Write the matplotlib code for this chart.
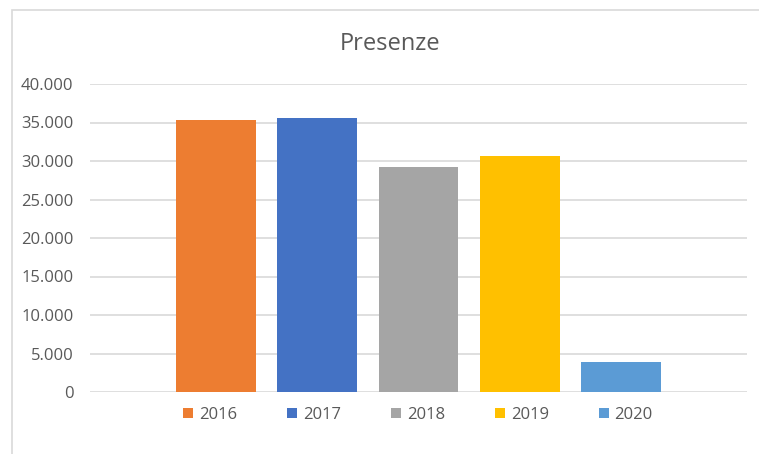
import matplotlib
matplotlib.use("Agg")
import matplotlib.pyplot as plt
from matplotlib.patches import Rectangle, Patch
from matplotlib.ticker import FuncFormatter

# -----------------------------
# Data
# -----------------------------
years = ["2016", "2017", "2018", "2019", "2020"]
presenze = [35350, 35550, 29250, 30650, 3950]
colors = ["#ED7D31", "#4472C4", "#A5A5A5", "#FFC000", "#5B9BD5"]

plt.rcParams["font.family"] = ["Open Sans", "DejaVu Sans"]
text_color = "#595959"
grid_color = "#D9D9D9"

W, H = 759, 454
fig = plt.figure(figsize=(W / 100, H / 100), dpi=100)

# chart border (Excel style)
fig.patches.append(Rectangle((12 / W, -0.1), 1.2, 1 - 10 / H + 0.1,
                             transform=fig.transFigure, fill=False,
                             edgecolor=grid_color, linewidth=1.2))

ax = fig.add_axes([90 / W, 1 - 392 / H, (747 - 90) / W, (392 - 84) / H])

# one bar per year
x = range(len(years))
ax.bar(x, presenze, width=0.79, color=colors, zorder=3)

ax.set_xlim(-1.25, 5.25)
ax.set_ylim(0, 40000)
ax.set_yticks(range(0, 40001, 5000))
ax.yaxis.set_major_formatter(FuncFormatter(lambda v, p: f"{int(v):,}".replace(",", ".")))
ax.set_xticks([])

ax.grid(axis="y", color=grid_color, linewidth=1.2, zorder=0)
for s in ax.spines.values():
    s.set_visible(False)
ax.tick_params(axis="y", length=0, pad=12, labelsize=12, labelcolor=text_color)

fig.text(0.514, 1 - 44 / H, "Presenze", ha="center", va="center",
         fontsize=17, color=text_color)

# legend at the bottom
handles = [Patch(facecolor=c, edgecolor="none") for c in colors]
fig.legend(handles, years, loc="center", bbox_to_anchor=(418 / W, 1 - 415 / H),
           ncol=5, frameon=False, fontsize=12, labelcolor=text_color,
           handlelength=0.6, handleheight=0.6, handletextpad=0.35,
           columnspacing=3.0)

fig.savefig("out.png", dpi=100)
